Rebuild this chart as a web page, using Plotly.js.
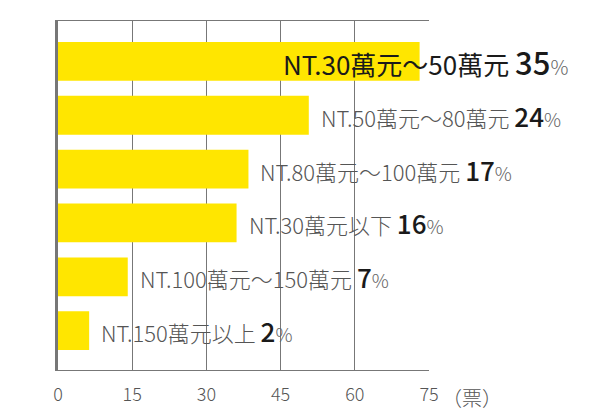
<!DOCTYPE html>
<html>
<head>
<meta charset="utf-8">
<script src="https://cdn.plot.ly/plotly-3.0.1.min.js"></script>
<style>
  body { margin: 0; background: #fff; }
  #myDiv { width: 590px; height: 415px; }
</style>
</head>
<body>
<div id="myDiv"></div>
<script>
// price ranges, top to bottom
var categories = ['NT.30萬元～50萬元', 'NT.50萬元～80萬元', 'NT.80萬元～100萬元',
                  'NT.30萬元以下', 'NT.100萬元～150萬元', 'NT.150萬元以上'];
// votes
var votes = [73.1, 50.7, 38.5, 36.1, 14.1, 6.3];
var percents = [35, 24, 17, 16, 7, 2];
var tickValues = [0, 15, 30, 45, 60, 75];
var tickLabels = ['0', '15', '30', '45', '60', '75'];
var unitLabel = '（票）';

var fontFamily = '"Noto Sans CJK TC", "Noto Sans", sans-serif';

var trace = {
  type: 'bar',
  orientation: 'h',
  x: votes,
  y: categories,
  width: 0.72,
  marker: { color: '#FFE600' },
  hoverinfo: 'none'
};

// labels next to each bar, the first one sits over the bar and is bigger
var annotations = categories.map(function (c, i) {
  var first = i === 0;
  var numStyle = (first ? 'font-size:31px;' : 'font-size:26px;') + 'font-weight:500;color:#1a1a1a';
  var pctStyle = (first ? 'font-size:20px;' : 'font-size:19px;') + 'font-weight:300;color:#666';
  return {
    x: votes[i],
    y: c,
    xref: 'x',
    yref: 'y',
    xanchor: 'left',
    yanchor: 'middle',
    xshift: first ? -139 : 10,
    showarrow: false,
    text: c + ' <span style="' + numStyle + '">' + percents[i] + '</span>' +
          '<span style="' + pctStyle + '">%</span>',
    font: { family: fontFamily, size: first ? 26 : 22, color: first ? '#1a1a1a' : '#555', weight: first ? 400 : 300 }
  };
});

annotations.push({
  x: 75,
  y: 0,
  xref: 'x',
  yref: 'paper',
  xanchor: 'left',
  yanchor: 'top',
  xshift: 11,
  yshift: -11,
  showarrow: false,
  text: unitLabel,
  font: { family: fontFamily, size: 20, color: '#555', weight: 300 }
});

var layout = {
  width: 590,
  height: 415,
  margin: { l: 58, r: 161, t: 21, b: 45 },
  paper_bgcolor: '#fff',
  plot_bgcolor: '#fff',
  showlegend: false,
  xaxis: {
    range: [0, 75],
    tickvals: tickValues,
    ticktext: tickLabels,
    showgrid: true,
    gridcolor: '#777',
    gridwidth: 1,
    zeroline: false,
    showline: true,
    mirror: true,
    linecolor: '#777',
    linewidth: 1,
    ticks: '',
    ticklabelstandoff: 8,
    tickfont: { family: fontFamily, size: 18, color: '#555', weight: 300 },
    fixedrange: true
  },
  yaxis: {
    type: 'category',
    range: [5.73, -0.75],
    showgrid: false,
    zeroline: false,
    showticklabels: false,
    showline: true,
    linecolor: '#777',
    linewidth: 3,
    ticks: '',
    fixedrange: true
  },
  annotations: annotations
};

Plotly.newPlot('myDiv', [trace], layout, { displayModeBar: false, staticPlot: true });
</script>
</body>
</html>
